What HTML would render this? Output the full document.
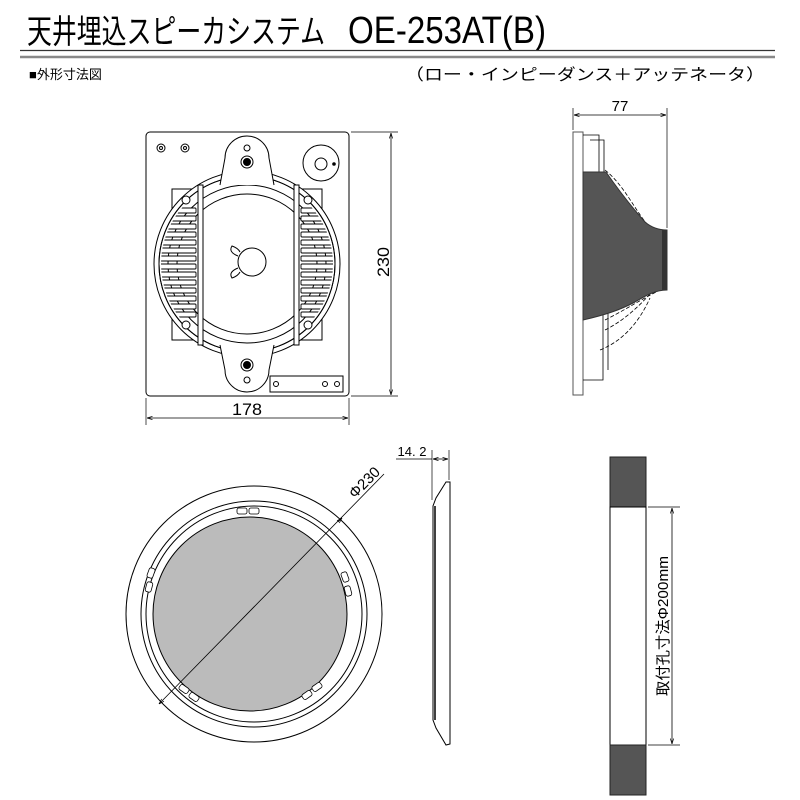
<!DOCTYPE html>
<html><head><meta charset="utf-8"><style>
html,body{margin:0;padding:0;background:#fff;}
svg{display:block;}
text{font-family:"Liberation Sans","Noto Sans CJK JP",sans-serif;fill:#000;}
</style></head><body>
<svg width="800" height="800" viewBox="0 0 800 800" xmlns="http://www.w3.org/2000/svg">
<defs>
<marker id="ar" viewBox="0 0 10 10" refX="10" refY="5" markerWidth="7" markerHeight="7" orient="auto-start-reverse"><path d="M0,2 L10,5 L0,8" fill="none" stroke="#000" stroke-width="1.2"/></marker>
<clipPath id="cg"><circle cx="247" cy="264" r="86"/></clipPath>
</defs>
<!-- title -->
<text x="27" y="43" font-size="33" textLength="298" lengthAdjust="spacingAndGlyphs">天井埋込スピーカシステム</text>
<text x="348" y="43" font-size="38" textLength="198" lengthAdjust="spacingAndGlyphs">OE-253AT(B)</text>
<line x1="20" y1="50.5" x2="775" y2="50.5" stroke="#333" stroke-width="1.2"/>
<line x1="20" y1="57" x2="775" y2="57" stroke="#888" stroke-width="2.5"/>
<text x="29" y="79" font-size="13">■外形寸法図</text>
<text x="405" y="80" font-size="16" textLength="360" lengthAdjust="spacingAndGlyphs">（ロー・インピーダンス＋アッテネータ）</text>

<g fill="none" stroke="#000" stroke-width="1">
<!-- front view -->
<rect x="146" y="132" width="203" height="264" rx="4"/>
<rect x="172" y="189" width="26" height="151"/>
<rect x="294" y="189" width="28" height="151"/>
<circle cx="247" cy="264" r="93" fill="#fff"/>
<circle cx="247" cy="264" r="88"/>
<circle cx="247" cy="264" r="79"/>
<circle cx="247" cy="264" r="70"/>
<!-- grille slots -->
<g stroke-width="0.9" clip-path="url(#cg)" fill="#fff">
<rect x="150" y="208" width="46" height="5" rx="1"/><rect x="150" y="216" width="46" height="5" rx="1"/><rect x="150" y="224" width="46" height="5" rx="1"/><rect x="150" y="232" width="46" height="5" rx="1"/><rect x="150" y="240" width="46" height="5" rx="1"/><rect x="150" y="248" width="46" height="5" rx="1"/><rect x="150" y="256" width="46" height="5" rx="1"/><rect x="150" y="264" width="46" height="5" rx="1"/><rect x="150" y="272" width="46" height="5" rx="1"/><rect x="150" y="280" width="46" height="5" rx="1"/><rect x="150" y="288" width="46" height="5" rx="1"/><rect x="150" y="296" width="46" height="5" rx="1"/><rect x="150" y="304" width="46" height="5" rx="1"/><rect x="150" y="312" width="46" height="5" rx="1"/>
<rect x="301" y="208" width="46" height="5" rx="1"/><rect x="301" y="216" width="46" height="5" rx="1"/><rect x="301" y="224" width="46" height="5" rx="1"/><rect x="301" y="232" width="46" height="5" rx="1"/><rect x="301" y="240" width="46" height="5" rx="1"/><rect x="301" y="248" width="46" height="5" rx="1"/><rect x="301" y="256" width="46" height="5" rx="1"/><rect x="301" y="264" width="46" height="5" rx="1"/><rect x="301" y="272" width="46" height="5" rx="1"/><rect x="301" y="280" width="46" height="5" rx="1"/><rect x="301" y="288" width="46" height="5" rx="1"/><rect x="301" y="296" width="46" height="5" rx="1"/><rect x="301" y="304" width="46" height="5" rx="1"/><rect x="301" y="312" width="46" height="5" rx="1"/>
</g>
<circle cx="247" cy="264" r="88"/>
<rect x="198" y="185" width="5" height="160" fill="#fff"/>
<rect x="294" y="185" width="5" height="160" fill="#fff"/>
<circle cx="186" cy="200" r="4" fill="#fff"/><circle cx="308" cy="200" r="4" fill="#fff"/>
<circle cx="186" cy="325" r="4" fill="#fff"/><circle cx="308" cy="325" r="4" fill="#fff"/>
<!-- tabs -->
<path d="M220,185 L225,158 A22,22 0 0 1 269,158 L274,185" fill="#fff"/>
<path d="M220,345 L225,370 A22,22 0 0 0 269,370 L274,345" fill="#fff"/>
<circle cx="247" cy="148" r="3"/><circle cx="247" cy="162" r="6"/><circle cx="247" cy="162" r="3.5" fill="#000"/>
<circle cx="247" cy="380" r="3"/><circle cx="247" cy="365" r="6"/><circle cx="247" cy="365" r="3.5" fill="#000"/>
<circle cx="161" cy="148" r="4"/><circle cx="161" cy="148" r="1.5"/>
<circle cx="185" cy="148" r="4"/><circle cx="185" cy="148" r="1.5"/>
<circle cx="321" cy="163" r="18"/><circle cx="321" cy="164" r="6"/><circle cx="334" cy="164" r="1.3" fill="#000"/>
<rect x="270" y="376" width="73" height="16"/>
<circle cx="276" cy="384" r="2.5"/><circle cx="325" cy="384" r="2.5"/><circle cx="337" cy="384" r="2.5"/>
<!-- center -->
<circle cx="252" cy="262" r="14"/>
<path d="M238,256 q-10,-4 -6,-10 q6,2 8,6 M238,268 q-10,4 -6,10 q6,-2 8,-6"/>
<!-- dims front -->
<line x1="351" y1="132" x2="398" y2="132" stroke-width="0.7"/>
<line x1="351" y1="396" x2="398" y2="396" stroke-width="0.7"/>
<line x1="391" y1="133" x2="391" y2="395" marker-start="url(#ar)" marker-end="url(#ar)" stroke-width="0.8"/>
<line x1="146" y1="398" x2="146" y2="425" stroke-width="0.7"/>
<line x1="349" y1="398" x2="349" y2="425" stroke-width="0.7"/>
<line x1="147" y1="418" x2="348" y2="418" marker-start="url(#ar)" marker-end="url(#ar)" stroke-width="0.8"/>

<!-- side view -->
<line x1="573" y1="108" x2="573" y2="130" stroke-width="0.7"/>
<line x1="667" y1="108" x2="667" y2="228" stroke-width="0.7"/>
<line x1="574" y1="115" x2="666" y2="115" marker-start="url(#ar)" marker-end="url(#ar)" stroke-width="0.8"/>
<rect x="573" y="132" width="10" height="263" stroke="#555"/>
<path d="M583,135 h16 v80 h-16 M590,140 h14 v40 M590,182 h10 v12 M583,300 h20 v80 h-20 M590,310 h18 v60" stroke-width="0.8"/>
<path d="M605,170 C630,190 640,225 660,235 M605,178 C630,200 636,225 650,236" stroke-dasharray="4,2" stroke-width="0.8"/>
<path d="M605,320 C625,310 640,300 660,290 M605,330 C625,320 640,305 650,294 M600,350 C625,340 640,320 650,298" stroke-dasharray="4,2" stroke-width="0.8"/>
<path d="M583,172 L606,172 C615,185 630,205 645,222 C652,228 660,230 667,230 L667,290 C655,290 645,296 635,302 C620,310 605,315 583,320 Z" fill="#555" stroke="#333"/>
<rect x="662" y="230" width="5" height="60" fill="#333" stroke="none"/>

<!-- round grille -->
<circle cx="254" cy="614" r="128"/>
<circle cx="254" cy="614" r="113"/>
<circle cx="254" cy="614" r="108"/>
<circle cx="250" cy="614" r="97" fill="#bbb"/>
<g stroke-width="0.8" fill="#fff">
<rect x="237" y="508" width="10" height="6" rx="2"/><rect x="249" y="508" width="10" height="6" rx="2"/>
<rect x="148" y="568" width="6" height="10" rx="2" transform="rotate(20 151 573)"/><rect x="146" y="582" width="6" height="10" rx="2" transform="rotate(15 149 587)"/>
<rect x="342" y="572" width="6" height="10" rx="2" transform="rotate(-20 345 577)"/><rect x="345" y="586" width="6" height="10" rx="2" transform="rotate(-15 348 591)"/>
<rect x="179" y="686" width="10" height="6" rx="2" transform="rotate(35 184 689)"/><rect x="189" y="694" width="10" height="6" rx="2" transform="rotate(35 194 697)"/>
<rect x="302" y="692" width="10" height="6" rx="2" transform="rotate(-35 307 695)"/><rect x="312" y="684" width="10" height="6" rx="2" transform="rotate(-35 317 687)"/>
</g>
<line x1="159" y1="704" x2="384" y2="474" marker-start="url(#ar)" stroke-width="0.8"/>
<line x1="338" y1="522" x2="342" y2="518" marker-end="url(#ar)" stroke-width="0.8"/>

<!-- ring side -->
<path d="M450,482 L450,744 L446,745 L436,728 L433,720 L433,506 L436,498 L446,482 Z"/>
<line x1="435" y1="506" x2="435" y2="720" stroke-width="1.5"/>
<line x1="432" y1="450" x2="432" y2="500" stroke-width="0.7"/>
<line x1="449" y1="450" x2="449" y2="480" stroke-width="0.7"/>
<line x1="396" y1="459" x2="432" y2="459" stroke-width="0.8"/>
<line x1="433" y1="459" x2="448" y2="459" marker-start="url(#ar)" marker-end="url(#ar)" stroke-width="0.8"/>

<!-- cutout -->
<rect x="610" y="457" width="36" height="50" fill="#555" stroke="#222"/>
<rect x="610" y="507" width="36" height="238" fill="#fff"/>
<rect x="610" y="745" width="36" height="50" fill="#555" stroke="#222"/>
<line x1="648" y1="507" x2="680" y2="507" stroke-width="0.7"/>
<line x1="648" y1="745" x2="680" y2="745" stroke-width="0.7"/>
<line x1="672" y1="508" x2="672" y2="744" marker-start="url(#ar)" marker-end="url(#ar)" stroke-width="0.8"/>
</g>

<text x="247" y="415" font-size="17" text-anchor="middle" textLength="30" lengthAdjust="spacingAndGlyphs">178</text>
<text transform="translate(389,262) rotate(-90)" font-size="17" text-anchor="middle" textLength="30" lengthAdjust="spacingAndGlyphs">230</text>
<text x="620" y="111" font-size="15" text-anchor="middle">77</text>
<text x="412" y="456" font-size="13" text-anchor="middle">14. 2</text>
<text transform="translate(368,486) rotate(-45)" font-size="15" text-anchor="middle">Φ230</text>
<text transform="translate(668,626) rotate(-90)" font-size="15" text-anchor="middle" textLength="140" lengthAdjust="spacingAndGlyphs">取付孔寸法Φ200mm</text>
</svg>
</body></html>
